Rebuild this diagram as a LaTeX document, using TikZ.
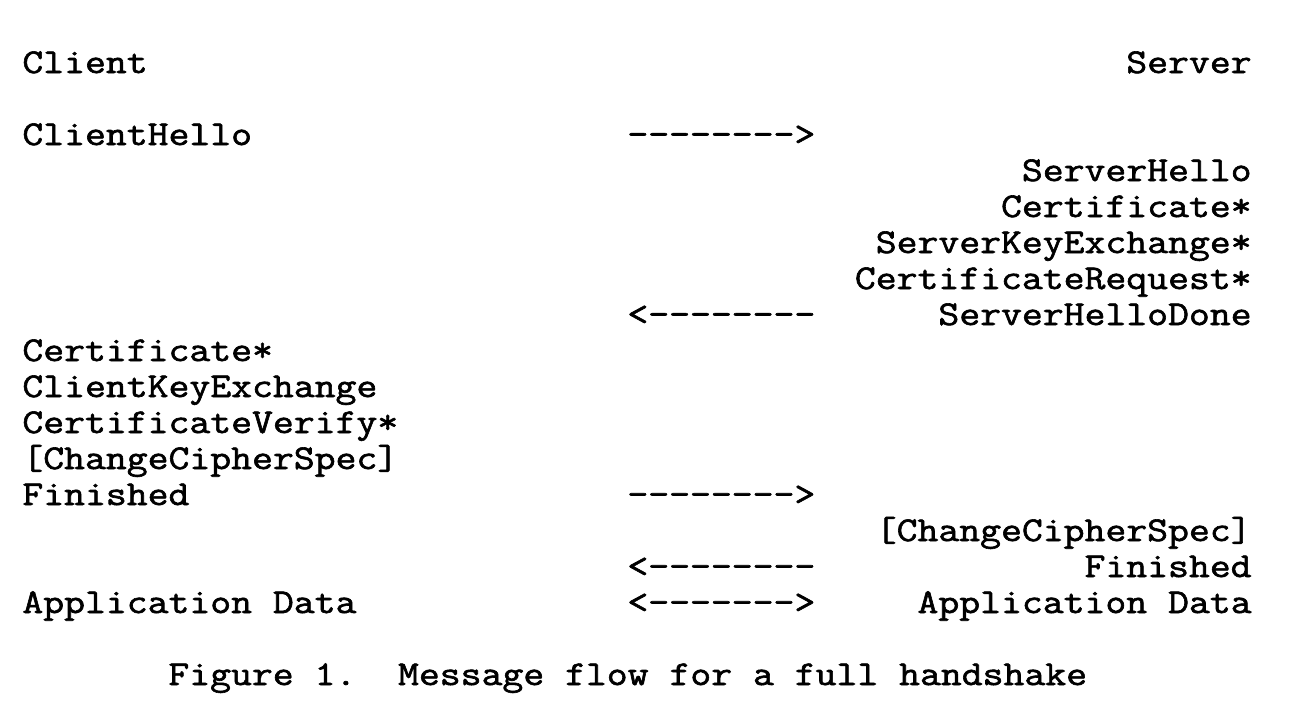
\documentclass[tikz,border=0pt]{standalone}
\usepackage{fontspec}
\setmonofont[FakeStretch=1.165,FakeBold=1.8]{Latin Modern Mono}
\begin{document}
\begin{tikzpicture}[x=0.5pt,y=-0.5pt,
    msg/.style={inner sep=0pt,font=\ttfamily\fontsize{17.4}{18}\selectfont},
    cside/.style={msg,anchor=base west},
    sside/.style={msg,anchor=base east}]
    \useasboundingbox (0,0) rectangle (1312,708);
    \node[cside] (client) at (22,73) {Client};
    \node[sside] (server) at (1252,73) {Server};

    \foreach \i/\n/\t in {2/chello/ClientHello,8/ccert/Certificate*,9/ckex/ClientKeyExchange,10/cverify/CertificateVerify*,11/cccs/[ChangeCipherSpec],12/cfin/Finished,15/cdata/Application Data} {
      \node[cside] (\n) at (22,73+\i*36) {\t};
    }
    \foreach \i/\n/\t in {3/shello/ServerHello,4/scert/Certificate*,5/skex/ServerKeyExchange*,6/sreq/CertificateRequest*,7/sdone/ServerHelloDone,13/sccs/[ChangeCipherSpec],14/sfin/Finished,15/sdata/Application Data} {
      \node[sside] (\n) at (1252,73+\i*36) {\t};
    }
    \foreach \i/\n/\t in {2/a1/-------->,7/a2/<--------,12/a3/-------->,14/a4/<--------,15/a5/<------->} {
      \node[cside] (\n) at (627,73+\i*36) {\t};
    }

    \node[cside] (caption) at (168,73+17*36) {Figure 1.\ \ Message flow for a full handshake};
  \end{tikzpicture}
\end{document}
